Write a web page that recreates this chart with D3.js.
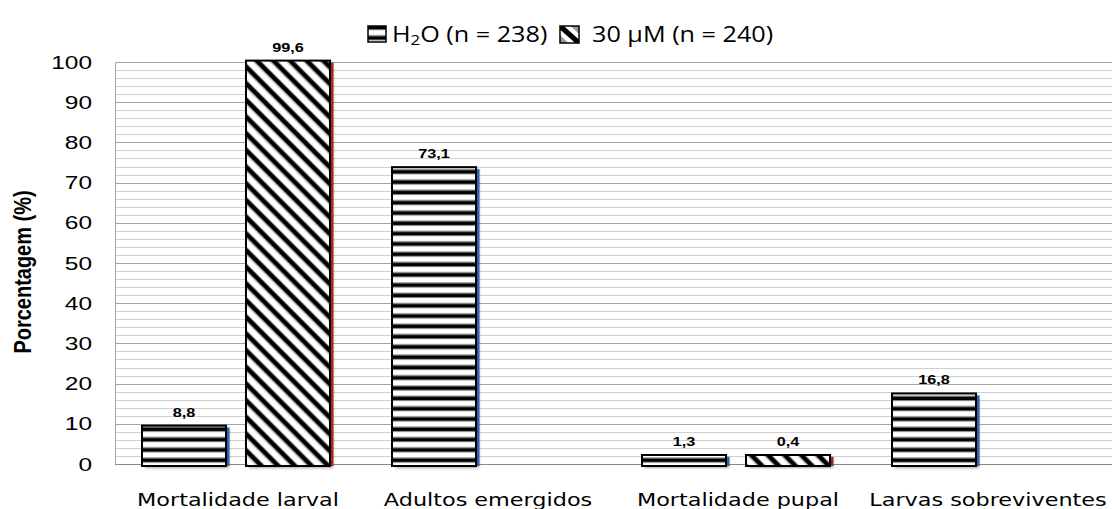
<!DOCTYPE html>
<html>
<head>
<meta charset="utf-8">
<script src="https://cdn.jsdelivr.net/npm/d3@7"></script>
<style>
  html, body { margin: 0; padding: 0; background: #fff; }
  svg { display: block; }
</style>
</head>
<body>
<svg id="chart" width="1112" height="509"></svg>
<script>
// Data
const categories = ["Mortalidade larval", "Adultos emergidos", "Mortalidade pupal", "Larvas sobreviventes"];
const seriesKeys = ["agua", "tratado"];
const waterValues = [8.8, 73.1, 1.3, 16.8];
const treatedValues = [99.6, null, 0.4, null];
const yTickValues = [0, 10, 20, 30, 40, 50, 60, 70, 80, 90, 100];
const legendLabels = ["H2O (n = 238)", "30 µM (n = 240)"];
const yTitle = "Porcentagem (%)";

const plot = { left: 115, right: 1112, top: 62, bottom: 464 };

const svg = d3.select("#chart");
const defs = svg.append("defs");

// Horizontal stripe fill
const hp = defs.append("pattern").attr("id", "hstripe")
  .attr("patternUnits", "userSpaceOnUse").attr("width", 10).attr("height", 10.3)
  .attr("y", 2);
hp.append("rect").attr("width", 10).attr("height", 10.3).attr("fill", "#fff");
hp.append("rect").attr("y", 2.2).attr("width", 10).attr("height", 1).attr("fill", "#888");
hp.append("rect").attr("y", 3.2).attr("width", 10).attr("height", 3.4).attr("fill", "#000");
hp.append("rect").attr("y", 6.6).attr("width", 10).attr("height", 1).attr("fill", "#777");

// Diagonal stripe fill
const dp = defs.append("pattern").attr("id", "dstripe")
  .attr("patternUnits", "userSpaceOnUse").attr("width", 20).attr("height", 11.8)
  .attr("patternTransform", "rotate(45)");
dp.append("rect").attr("width", 20).attr("height", 11.8).attr("fill", "#fff");
dp.append("rect").attr("y", 0).attr("width", 20).attr("height", 1).attr("fill", "#888");
dp.append("rect").attr("y", 1).attr("width", 20).attr("height", 4.2).attr("fill", "#000");
dp.append("rect").attr("y", 5.2).attr("width", 20).attr("height", 1).attr("fill", "#888");

// Legend swatch: one thick diagonal band
const lp = defs.append("pattern").attr("id", "dswatch")
  .attr("patternUnits", "objectBoundingBox").attr("patternContentUnits", "objectBoundingBox")
  .attr("width", 1).attr("height", 1);
lp.append("rect").attr("width", 1).attr("height", 1).attr("fill", "#fff");
lp.append("polygon").attr("points", "0,0.05 0.2,0 1,0.8 1,1 0.8,1 0,0.2").attr("fill", "#000");
lp.append("polygon").attr("points", "0.55,0 1,0 1,0.45").attr("fill", "#999");
lp.append("polygon").attr("points", "0,0.55 0,1 0.45,1").attr("fill", "#999");

// Soft shadow under bars
const sh = defs.append("filter").attr("id", "shadow")
  .attr("x", "-10%").attr("y", "-10%").attr("width", "130%").attr("height", "130%");
sh.append("feDropShadow").attr("dx", 2).attr("dy", 2).attr("stdDeviation", 1.6)
  .attr("flood-color", "#000").attr("flood-opacity", 0.35);

// Scales
const x0 = d3.scaleBand().domain(categories).range([112, 1112]).paddingInner(0).paddingOuter(0);
const x1 = d3.scaleBand().domain(seriesKeys).range([30, 218]).paddingInner(0.192).paddingOuter(0);
const y = d3.scaleLinear().domain([0, 100]).range([plot.bottom, plot.top]);

const locale = d3.formatLocale({ decimal: ",", thousands: ".", grouping: [3], currency: ["", ""] });
const fmt = locale.format(".1f");

// Text helper: horizontally widened text
function wideText(parent, x, yPos, txt, opts) {
  const g = parent.append("g")
    .attr("transform", `translate(${x},${yPos}) scale(${opts.sx || 1},1)${opts.rotate ? " rotate(" + opts.rotate + ")" : ""}`);
  return g.append("text")
    .attr("x", 0).attr("y", 0)
    .attr("text-anchor", opts.anchor || "start")
    .attr("font-family", opts.family)
    .attr("font-size", opts.size)
    .attr("font-weight", opts.weight || "normal")
    .attr("fill", opts.fill || "#000")
    .text(txt);
}

// Gridlines (every 2 units, stronger every 10)
const gridVals = d3.range(0, 101, 2);
const grid = svg.append("g");
grid.selectAll("line.minor").data(gridVals.filter(v => v % 10 !== 0)).join("line")
  .attr("x1", plot.left).attr("x2", plot.right)
  .attr("y1", d => Math.round(y(d)) + 0.5).attr("y2", d => Math.round(y(d)) + 0.5)
  .attr("stroke", "#cfcfcf").attr("stroke-width", 1);
grid.selectAll("line.major").data(yTickValues).join("line")
  .attr("x1", plot.left).attr("x2", plot.right)
  .attr("y1", d => Math.round(y(d)) + 0.5).attr("y2", d => Math.round(y(d)) + 0.5)
  .attr("stroke", d => d === 0 ? "#8a8a8a" : "#a4a4a4").attr("stroke-width", 1);
grid.append("line")
  .attr("x1", plot.left + 0.5).attr("x2", plot.left + 0.5)
  .attr("y1", y(100)).attr("y2", y(0))
  .attr("stroke", "#a4a4a4");

// Y tick labels
const yAxisG = svg.append("g");
yTickValues.forEach(v => {
  wideText(yAxisG, 92, y(v) + 6.5, String(v),
    { anchor: "end", family: "Liberation Sans, Arial, sans-serif", size: 18, sx: 1.36 });
});

// Y axis title
wideText(svg, 31, 272, yTitle,
  { anchor: "middle", family: "Liberation Sans, Arial, sans-serif", size: 20, weight: "bold", sx: 1.17, rotate: -90 });

// Bars
const rows = categories.map((c, i) => ({ cat: c, agua: waterValues[i], tratado: treatedValues[i] }));
const fills = { agua: "url(#hstripe)", tratado: "url(#dstripe)" };
const edges = { agua: "#2f64ad", tratado: "#a8271f" };

const barData = [];
rows.forEach(r => seriesKeys.forEach(k => {
  if (r[k] != null) barData.push({ cat: r.cat, key: k, value: r[k] });
}));

function barTop(d) { return Math.min(y(d.value) - 3, y(0) - 9); }
function barBottom(d) { return y(0) + 2; }

const barsG = svg.append("g");
const bar = barsG.selectAll("g.bar").data(barData).join("g").attr("class", "bar");

bar.append("rect")
  .attr("x", d => x0(d.cat) + x1(d.key) + 1)
  .attr("y", d => barTop(d))
  .attr("width", x1.bandwidth())
  .attr("height", d => barBottom(d) - barTop(d))
  .attr("fill", "#fff")
  .attr("filter", "url(#shadow)");

bar.append("rect")
  .attr("x", d => x0(d.cat) + x1(d.key) + x1.bandwidth())
  .attr("y", d => barTop(d) + 2)
  .attr("width", 3.5)
  .attr("height", d => barBottom(d) - barTop(d) - 2)
  .attr("fill", d => edges[d.key]);

bar.append("rect")
  .attr("x", d => x0(d.cat) + x1(d.key))
  .attr("y", d => barTop(d))
  .attr("width", x1.bandwidth())
  .attr("height", d => barBottom(d) - barTop(d))
  .attr("fill", d => fills[d.key])
  .attr("stroke", "#000").attr("stroke-width", 2);

// Value labels
const labelsG = svg.append("g");
barData.forEach(d => {
  wideText(labelsG, x0(d.cat) + x1(d.key) + x1.bandwidth() / 2, barTop(d) - 9, fmt(d.value),
    { anchor: "middle", family: "Liberation Sans, Arial, sans-serif", size: 13, weight: "bold", sx: 1.25 });
});

// Category labels
const catG = svg.append("g");
categories.forEach(c => {
  wideText(catG, x0(c) + x0.bandwidth() / 2 + 1, 506, c,
    { anchor: "middle", family: "DejaVu Sans, Verdana, sans-serif", size: 18.3, sx: 1.22 });
});

// Legend
const legend = svg.append("g");
const sw = [
  { x: 368, yy: 26, w: 18, h: 16, fill: "url(#hstripe)" },
  { x: 560, yy: 26, w: 19, h: 17, fill: "url(#dswatch)" }
];
sw.forEach(s => {
  legend.append("rect").attr("x", s.x).attr("y", s.yy).attr("width", s.w).attr("height", s.h)
    .attr("fill", s.fill).attr("stroke", "#000").attr("stroke-width", 1.5);
});
// first legend entry, with subscript digit
{
  const g = legend.append("g").attr("transform", "translate(392,42) scale(1.2,1)");
  const t = g.append("text").attr("font-family", "Open Sans, sans-serif").attr("font-size", 21).attr("fill", "#000");
  t.append("tspan").text("H");
  t.append("tspan").attr("font-size", 14).attr("dy", 3).text("2");
  t.append("tspan").attr("dy", -3).text(legendLabels[0].slice(2));
}
wideText(legend, 592, 42, legendLabels[1],
  { anchor: "start", family: "Open Sans, sans-serif", size: 21, sx: 1.2 });
</script>
</body>
</html>
